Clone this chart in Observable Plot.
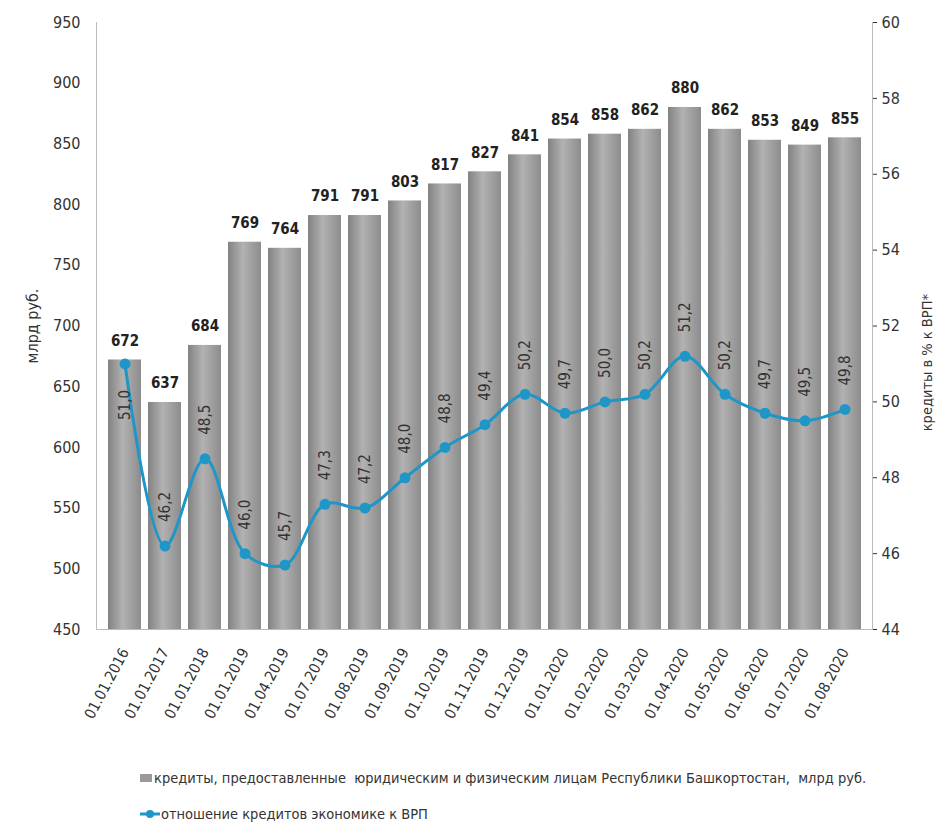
<!DOCTYPE html>
<html><head><meta charset="utf-8">
<script src="https://cdn.jsdelivr.net/npm/d3@7"></script>
<script src="https://cdn.jsdelivr.net/npm/@observablehq/plot@0.6"></script>
<style>
body{margin:0;background:#fff;font-family:"DejaVu Sans",sans-serif;font-stretch:condensed;}
#chart svg{display:block;}
.leg{position:absolute;left:140px;font-size:14.5px;color:#333;display:flex;align-items:center;white-space:nowrap;}
</style></head><body>
<div id="chart"></div>
<div class="leg" style="top:770px"><svg width="13" height="10"><rect x="0" y="1" width="12" height="8" fill="#9a9a9a"></rect></svg><span style="margin-left:1px">кредиты, предоставленные &nbsp;юридическим и физическим лицам Республики Башкортостан, &nbsp;млрд руб.</span></div>
<div class="leg" style="top:806px"><svg width="20" height="12"><line x1="0" y1="6" x2="20" y2="6" stroke="#1f96c8" stroke-width="3"></line><circle cx="10" cy="6" r="4" fill="#1f96c8"></circle></svg><span style="margin-left:1px">отношение кредитов экономике к ВРП</span></div>
<script>
const dates = ["01.01.2016","01.01.2017","01.01.2018","01.01.2019","01.04.2019","01.07.2019","01.08.2019","01.09.2019","01.10.2019","01.11.2019","01.12.2019","01.01.2020","01.02.2020","01.03.2020","01.04.2020","01.05.2020","01.06.2020","01.07.2020","01.08.2020"];
const credits = [672,637,684,769,764,791,791,803,817,827,841,854,858,862,880,862,853,849,855];
const ratio = [51.0,46.2,48.5,46.0,45.7,47.3,47.2,48.0,48.8,49.4,50.2,49.7,50.0,50.2,51.2,50.2,49.7,49.5,49.8];
const leftTicks = [450,500,550,600,650,700,750,800,850,900,950];
const rightTicks = [44,46,48,50,52,54,56,58,60];
const leftDomain = [450, 950];
const rightDomain = [44, 60];
const leftLabel = "млрд руб.";
const rightLabel = "кредиты в % к ВРП*";

const toLeft = p => leftDomain[0] + (p - rightDomain[0]) * (leftDomain[1] - leftDomain[0]) / (rightDomain[1] - rightDomain[0]);
const fromLeft = v => rightDomain[0] + (v - leftDomain[0]) * (rightDomain[1] - rightDomain[0]) / (leftDomain[1] - leftDomain[0]);
const data = dates.map((d, i) => ({date: d, credit: credits[i], ratio: ratio[i], first: i === 0}));
const fmt = v => v.toFixed(1).replace(".", ",");
const blue = "#1f96c8";

const defs = () => {
  const d = d3.create("svg:defs");
  const g = d.append("linearGradient").attr("id", "barGrad").attr("x1", 0).attr("x2", 1).attr("y1", 0).attr("y2", 0);
  g.append("stop").attr("offset", "0%").attr("stop-color", "#828282");
  g.append("stop").attr("offset", "45%").attr("stop-color", "#b2b2b2");
  g.append("stop").attr("offset", "100%").attr("stop-color", "#8c8c8c");
  return d.node();
};

const chart = Plot.plot({
  width: 946,
  height: 740,
  marginLeft: 96,
  marginRight: 74,
  marginTop: 22,
  marginBottom: 111,
  style: {fontFamily: '"DejaVu Sans",sans-serif', fontStretch: "condensed", fontSize: "14px", color: "#333"},
  x: {domain: dates, padding: 0.18},
  y: {domain: leftDomain},
  marks: [
    defs,
    Plot.barY(data, {x: "date", y1: () => leftDomain[0], y2: "credit", fill: "url(#barGrad)"}),
    Plot.ruleY([leftDomain[0]], {stroke: "#bbb"}),
    Plot.frame({anchor: "left", stroke: "#bbb"}),
    Plot.frame({anchor: "right", stroke: "#bbb"}),
    Plot.axisY(leftTicks, {tickSize: 0, tickPadding: 16, fontSize: 16, label: leftLabel, labelAnchor: "center", labelOffset: 70, labelArrow: "none"}),
    Plot.axisY(rightTicks.map(toLeft), {anchor: "right", tickFormat: v => String(Math.round(fromLeft(v))), tickSize: 4, tickPadding: 5, fontSize: 16, label: null}),
    Plot.text([rightLabel], {frameAnchor: "right", text: d => d, rotate: -90, dx: 55, dy: -32, fontSize: 14.5, fill: "#333"}),
    Plot.axisX({tickRotate: -62, tickSize: 0, tickPadding: 20, fontSize: 15, label: null}),
    Plot.text(data, {x: "date", y: "credit", text: d => String(d.credit), dy: -19, fontWeight: "bold", fontSize: 15, fill: "#222"}),
    Plot.line(data, {x: "date", y: d => toLeft(d.ratio), stroke: blue, strokeWidth: 3, curve: "catmull-rom"}),
    Plot.dot(data, {x: "date", y: d => toLeft(d.ratio), r: 5.5, fill: blue}),
    Plot.text(data.filter(d => !d.first), {x: "date", y: d => toLeft(d.ratio), text: d => fmt(d.ratio), rotate: -90, textAnchor: "start", dy: -24, fontSize: 15, fill: "#333"}),
    Plot.text(data.filter(d => d.first), {x: "date", y: d => toLeft(d.ratio), text: d => fmt(d.ratio), rotate: -90, textAnchor: "end", dy: 26, fontSize: 15, fill: "#333"})
  ]
});
document.getElementById("chart").appendChild(chart);
</script>
</body></html>
